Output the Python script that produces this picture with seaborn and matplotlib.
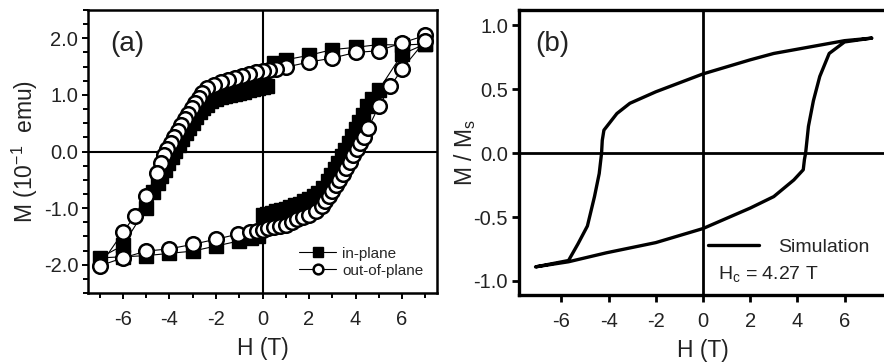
import numpy as np
import pandas as pd
import matplotlib
matplotlib.use("Agg")
import matplotlib.pyplot as plt
import seaborn as sns
from matplotlib.ticker import MultipleLocator

# ---------------- data: panel (a) ----------------
# in-plane, descending branch (7 T -> -7 T)
inp_dn_H = [7.0, 6.0, 5.0, 4.0, 3.0, 2.0, 1.0, 0.5, 0.2, 0.0, -0.2, -0.4, -0.6, -0.8, -1.0,
            -1.2, -1.4, -1.6, -1.8, -2.0, -2.2, -2.4, -2.55, -2.7, -2.85, -3.0, -3.15, -3.3,
            -3.45, -3.6, -3.75, -3.9, -4.05, -4.2, -4.35, -4.5, -4.7, -5.0, -6.0, -7.0]
inp_dn_M = [1.90, 1.88, 1.89, 1.84, 1.80, 1.70, 1.62, 1.57, 1.16, 1.14, 1.12, 1.10, 1.08, 1.06, 1.04,
            1.02, 1.00, 0.98, 0.96, 0.93, 0.89, 0.83, 0.77, 0.70, 0.61, 0.51, 0.42, 0.32,
            0.22, 0.11, 0.01, -0.10, -0.21, -0.32, -0.43, -0.55, -0.72, -1.00, -1.66, -1.88]
# in-plane, ascending branch (-7 T -> 7 T)
inp_up_H = [-6.0, -5.0, -4.0, -3.0, -2.0, -1.0, -0.5, -0.2, 0.0, 0.2, 0.4, 0.6, 0.8, 1.0,
            1.2, 1.4, 1.6, 1.8, 2.0, 2.2, 2.4, 2.6, 2.8, 2.95, 3.1, 3.25, 3.4, 3.55, 3.7,
            3.85, 4.0, 4.15, 4.3, 4.5, 4.7, 5.0, 6.0, 7.0]
inp_up_M = [-1.86, -1.84, -1.80, -1.76, -1.67, -1.58, -1.53, -1.50, -1.13, -1.10, -1.08, -1.06, -1.04, -1.01,
            -0.98, -0.95, -0.92, -0.88, -0.84, -0.79, -0.73, -0.64, -0.52, -0.42, -0.31, -0.20, -0.08, 0.03, 0.15,
            0.27, 0.40, 0.52, 0.65, 0.80, 0.93, 1.09, 1.72, 1.90]
# out-of-plane, descending branch
oop_dn_H = [7.0, 6.0, 5.0, 4.0, 3.0, 2.0, 1.0, 0.6, 0.3, 0.0, -0.3, -0.6, -0.9, -1.2, -1.5,
            -1.8, -2.1, -2.4, -2.6, -2.75, -2.9, -3.05, -3.2, -3.35, -3.5, -3.65, -3.8, -3.95,
            -4.1, -4.25, -4.35, -4.55, -5.0, -5.5, -6.0, -7.0]
oop_dn_M = [2.05, 1.92, 1.78, 1.75, 1.65, 1.58, 1.49, 1.46, 1.44, 1.42, 1.40, 1.37, 1.33, 1.29, 1.26,
            1.22, 1.18, 1.13, 1.03, 0.94, 0.86, 0.77, 0.67, 0.57, 0.47, 0.37, 0.26, 0.15,
            0.04, -0.07, -0.20, -0.38, -0.79, -1.14, -1.43, -2.02]
# out-of-plane, ascending branch
oop_up_H = [-6.0, -5.0, -4.0, -3.0, -2.0, -1.05, -0.55, -0.25, 0.0, 0.25, 0.5, 0.75, 1.0, 1.25,
            1.5, 1.75, 2.0, 2.3, 2.55, 2.7, 2.85, 3.0, 3.15, 3.3, 3.45, 3.6, 3.75, 3.9, 4.05,
            4.2, 4.35, 4.55, 5.0, 5.5, 6.0, 7.0]
oop_up_M = [-1.88, -1.76, -1.72, -1.64, -1.55, -1.46, -1.42, -1.40, -1.38, -1.36, -1.34, -1.32, -1.29, -1.25,
            -1.20, -1.16, -1.12, -1.06, -0.97, -0.88, -0.79, -0.70, -0.60, -0.50, -0.40, -0.29, -0.18, -0.07, 0.04,
            0.15, 0.26, 0.42, 0.80, 1.15, 1.46, 1.96]

# ---------------- data: panel (b) simulation loop ----------------
sim_H = [7.15, 6.0, 4.8, 3.0, 2.0, 0.0, -2.0, -3.1, -3.65, -4.2, -4.27, -4.3, -4.4, -4.6, -4.9,
         -5.3, -5.7, -7.1,
         -5.7, -4.1, -2.0, 0.0, 2.0, 3.0, 3.85, 4.25, 4.3, 4.35, 4.47, 4.68, 4.95, 5.35, 6.0, 7.15]
sim_M = [0.90, 0.88, 0.84, 0.78, 0.73, 0.62, 0.48, 0.39, 0.31, 0.18, 0.10, 0.0, -0.16, -0.34, -0.57,
         -0.71, -0.84, -0.89,
         -0.85, -0.78, -0.70, -0.59, -0.43, -0.34, -0.21, -0.13, -0.05, 0.0, 0.21, 0.41, 0.60, 0.78, 0.87, 0.90]

x_ticks = [-6, -4, -2, 0, 2, 4, 6]
ya_ticks = [-2.0, -1.0, 0.0, 1.0, 2.0]
yb_ticks = [-1.0, -0.5, 0.0, 0.5, 1.0]

inplane = pd.DataFrame({"H": inp_dn_H + inp_up_H, "M": inp_dn_M + inp_up_M})
outplane = pd.DataFrame({"H": oop_dn_H + oop_up_H, "M": oop_dn_M + oop_up_M})
sim = pd.DataFrame({"H": sim_H, "M": sim_M})

sns.set_theme(style="ticks")
plt.rcParams["font.family"] = ["Liberation Sans", "DejaVu Sans"]
plt.rcParams["axes.unicode_minus"] = False
plt.rcParams["mathtext.fontset"] = "custom"
plt.rcParams["mathtext.rm"] = "Liberation Sans"
plt.rcParams["mathtext.it"] = "Liberation Sans"
plt.rcParams["mathtext.default"] = "regular"

fig = plt.figure(figsize=(8.84, 3.64), dpi=100)
axa = fig.add_axes([88 / 884, 71 / 364, 349 / 884, 283 / 364])
axb = fig.add_axes([519 / 884, 69 / 364, 368 / 884, 285 / 364])

TICK_FS = 14.5
LABEL_FS = 16.5

# ---------- panel (a) ----------
axa.axhline(0, color="black", lw=1.5, zorder=1)
axa.axvline(0, color="black", lw=1.5, zorder=1)
sns.lineplot(data=inplane, x="H", y="M", sort=False, estimator=None, ax=axa,
             color="black", lw=0.8, marker="s", markersize=9.5,
             markerfacecolor="black", markeredgecolor="black", markeredgewidth=1.0,
             label="in-plane", zorder=3)
sns.lineplot(data=outplane, x="H", y="M", sort=False, estimator=None, ax=axa,
             color="black", lw=0.8, marker="o", markersize=10.5,
             markerfacecolor="white", markeredgecolor="black", markeredgewidth=1.8,
             label="out-of-plane", zorder=4)
axa.set_xlim(-7.5, 7.5)
axa.set_ylim(-2.5, 2.5)
axa.set_xticks(x_ticks)
axa.set_yticks(ya_ticks)
axa.set_yticklabels([f"{v:.1f}" for v in ya_ticks])
axa.xaxis.set_minor_locator(MultipleLocator(1))
axa.yaxis.set_minor_locator(MultipleLocator(0.25))
axa.tick_params(which="both", direction="out", length=4, width=1.4, color="black",
                labelsize=TICK_FS, labelcolor="#222222")
axa.tick_params(which="minor", length=3.5)
axa.tick_params(axis="x", which="major", pad=8)
axa.tick_params(axis="y", which="major", pad=3)
for s in axa.spines.values():
    s.set_linewidth(1.8)
    s.set_color("black")
    s.set_visible(True)
axa.set_xlabel("H (T)", fontsize=LABEL_FS, color="#222222", labelpad=6)
axa.set_ylabel("M (10$^{-1}$  emu)", fontsize=LABEL_FS, color="#222222", labelpad=3)
axa.text(0.063, 0.855, "(a)", transform=axa.transAxes, fontsize=20, color="#222222")
leg = axa.legend(loc="lower right", frameon=False, fontsize=11, handlelength=2.4,
                 handletextpad=0.4, labelspacing=0.2, borderaxespad=0.5,
                 bbox_to_anchor=(1.0, 0.005))
for h in leg.legend_handles:
    h.set_markersize(7)

# ---------- panel (b) ----------
axb.axhline(0, color="black", lw=2.0, zorder=1)
axb.axvline(0, color="black", lw=2.0, zorder=1)
sns.lineplot(data=sim, x="H", y="M", sort=False, estimator=None, ax=axb,
             color="black", lw=2.4, label="Simulation", zorder=3)
axb.set_xlim(-7.8, 7.8)
axb.set_ylim(-1.11, 1.12)
axb.set_xticks(x_ticks)
axb.set_yticks(yb_ticks)
axb.set_yticklabels([f"{v:.1f}" for v in yb_ticks])
axb.tick_params(which="both", direction="out", length=5, width=2.0, color="black",
                labelsize=TICK_FS, labelcolor="#222222")
axb.tick_params(axis="x", pad=7)
axb.tick_params(axis="y", pad=3)
for s in axb.spines.values():
    s.set_linewidth(2.4)
    s.set_color("black")
axb.set_xlabel("H (T)", fontsize=LABEL_FS, color="#222222", labelpad=6)
axb.set_ylabel("M / M$_s$", fontsize=LABEL_FS, color="#222222", labelpad=-3)
axb.text(0.045, 0.855, "(b)", transform=axb.transAxes, fontsize=20, color="#222222")
axb.legend(loc="lower right", frameon=False, fontsize=14, handlelength=2.6,
           handletextpad=1.0, bbox_to_anchor=(1.0, 0.075))
axb.text(0.54, 0.055, "H$_c$ = 4.27 T", transform=axb.transAxes, fontsize=14, color="#222222")

fig.savefig("out.png", dpi=100)
